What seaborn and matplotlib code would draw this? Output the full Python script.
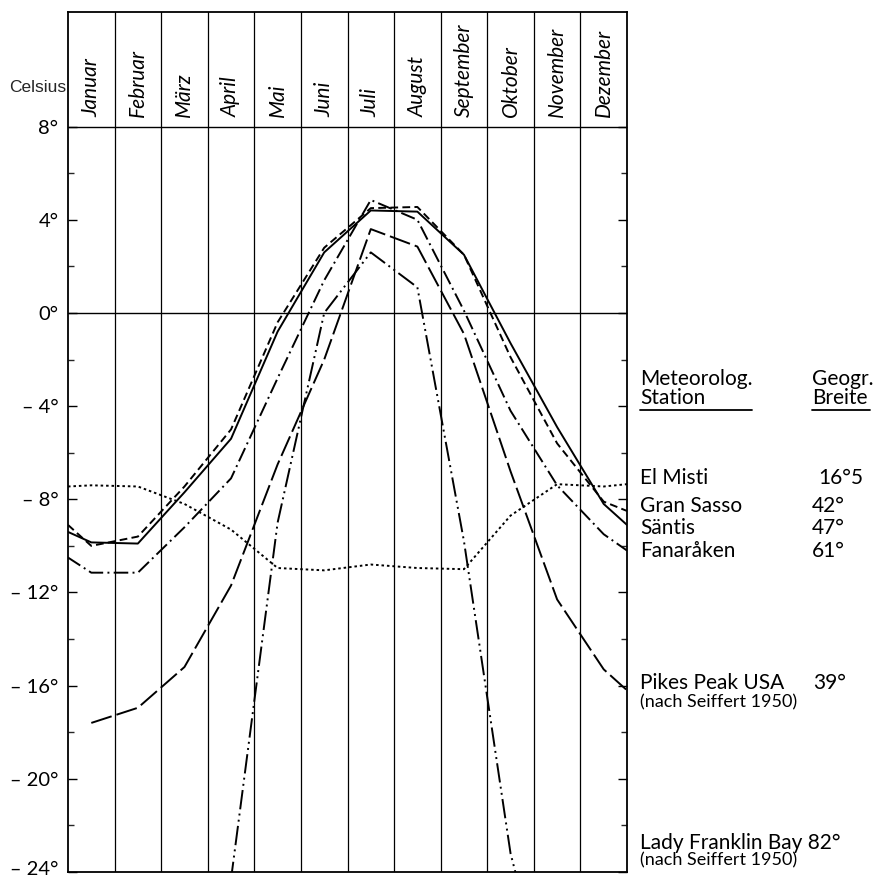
import matplotlib
matplotlib.use('Agg')
import matplotlib.pyplot as plt
import matplotlib.transforms as mtransforms
import numpy as np
import pandas as pd
import seaborn as sns

# Month names of the header (one column per month)
months = ['Januar', 'Februar', 'März', 'April', 'Mai', 'Juni',
          'Juli', 'August', 'September', 'Oktober', 'November', 'Dezember']

# Monthly mean temperature in Celsius, read at the month centres
el_misti = [-7.4, -7.45, -8.2, -9.3, -10.95, -11.05, -10.8, -10.95, -11.0, -8.7, -7.35, -7.45]
gran_sasso = [-10.0, -9.6, -7.45, -5.0, -0.4, 2.8, 4.5, 4.55, 2.5, -1.9, -5.6, -8.1]
saentis = [-9.85, -9.9, -7.7, -5.4, -0.8, 2.6, 4.4, 4.35, 2.5, -1.3, -4.9, -8.2]
fanaraaken = [-11.15, -11.15, -9.2, -7.1, -2.8, 1.4, 4.85, 4.0, 0.1, -4.2, -7.4, -9.5]
pikes_peak = [-17.6, -16.95, -15.2, -11.7, -6.5, -2.0, 3.6, 2.85, -0.9, -6.8, -12.3, -15.3]
lady_franklin = [-36.0, -37.0, -33.0, -24.3, -9.0, 0.0, 2.6, 1.1, -9.8, -23.2, -31.0, -35.0]

# Where the curves meet the left / right frame (None: curve stops at the month centre)
edge_left = [-7.45, -9.1, -9.4, -10.5, None, None]
edge_right = [-7.35, -8.5, -9.1, -10.2, -16.2, None]

stations = ['El Misti', 'Gran Sasso', 'Säntis', 'Fanaråken', 'Pikes Peak USA', 'Lady Franklin Bay']
series = [el_misti, gran_sasso, saentis, fanaraaken, pikes_peak, lady_franklin]

# dash patterns (in linewidth units), '' = solid
dash_map = {
    'El Misti': (1.3, 1.5),
    'Gran Sasso': (4.0, 2.2),
    'Säntis': '',
    'Fanaråken': (7.5, 2.2, 1.0, 2.2),
    'Pikes Peak USA': (11, 2.6),
    'Lady Franklin Bay': (10, 2.2, 1.0, 2.2, 1.0, 2.2),
}

rows = []
for name, vals, left, right in zip(stations, series, edge_left, edge_right):
    if left is not None:
        rows.append((name, 0.0, left))
    for i, v in enumerate(vals):
        rows.append((name, i + 0.5, v))
    if right is not None:
        rows.append((name, 12.0, right))
df = pd.DataFrame(rows, columns=['station', 'pos', 'temp'])

sns.set_theme(style='ticks')
plt.rcParams['font.family'] = ['Lato', 'DejaVu Sans']

W, H = 874, 880
fig = plt.figure(figsize=(W / 100, H / 100), dpi=100)
fig.patch.set_facecolor('white')
ax = fig.add_axes([68 / W, 8 / H, 559 / W, 860 / H])

sns.lineplot(data=df, x='pos', y='temp', style='station', style_order=stations,
             dashes=dash_map, color='black', linewidth=1.4, estimator=None,
             sort=True, legend=False, ax=ax)

ax.set_xlim(0, 12)
ax.set_ylim(-24, 12.92)
ax.set_xticks([])
ax.set_xlabel('')
ax.set_ylabel('')

# month grid and the 8° / 0° lines
for i in range(1, 12):
    ax.axvline(i, color='black', lw=0.9, zorder=1)
ax.axhline(8, color='black', lw=1.0, zorder=1)
ax.axhline(0, color='black', lw=1.0, zorder=1)

for sp in ax.spines.values():
    sp.set_linewidth(1.3)
    sp.set_color('black')

for i, m in enumerate(months):
    ax.text(i + 0.5, 8.4, m, rotation=90, ha='center', va='bottom',
            style='italic', fontsize=15, color='black')

# y axis: labelled every 4°, small ticks every 2°
major = np.arange(-24, 9, 4)
labels = [f'{v}°' if v >= 0 else f'\u2013 {abs(v)}°' for v in major]
ax.set_yticks(major)
ax.set_yticklabels(labels)
ax.set_yticks(np.arange(-22, 8, 4), minor=True)
ax.tick_params(axis='y', which='major', direction='in', length=6.5, width=1.0,
               left=True, right=True, pad=7, labelsize=14.5, colors='black')
ax.tick_params(axis='y', which='minor', direction='in', length=4.5, width=1.0,
               left=True, right=True)

# keep the lowest label inside the picture
bottom_label = ax.get_yticklabels()[0]
bottom_label.set_transform(bottom_label.get_transform() +
                           mtransforms.ScaledTranslation(0, 3 / 72, fig.dpi_scale_trans))

fig.text(66 / W, 1 - 88 / H, 'Celsius', ha='right', va='center', fontsize=12.5,
         family=['Liberation Sans', 'DejaVu Sans'])


def label(x, y, s, size=15):
    fig.text(x / W, 1 - y / H, s, ha='left', va='center', fontsize=size, color='black')


def underline(x1, x2, y):
    fig.add_artist(plt.Line2D([x1 / W, x2 / W], [1 - y / H, 1 - y / H],
                              transform=fig.transFigure, color='black', lw=1.3))


label(640, 379, 'Meteorolog.')
label(640, 398, 'Station')
underline(640, 752, 410)
label(812, 379, 'Geogr.')
label(812, 398, 'Breite')
underline(812, 870, 410)

label(640, 478, 'El Misti')
label(818, 478, '16°5')
label(640, 506, 'Gran Sasso')
label(812, 506, '42°')
label(640, 528, 'Säntis')
label(812, 528, '47°')
label(640, 551, 'Fanaråken')
label(812, 551, '61°')

label(640, 683, 'Pikes Peak USA')
label(813, 683, '39°')
label(640, 702, '(nach Seiffert 1950)', size=13)
label(640, 843, 'Lady Franklin Bay 82°')
label(640, 860, '(nach Seiffert 1950)', size=13)

fig.savefig('out.png', dpi=100, facecolor='white')
